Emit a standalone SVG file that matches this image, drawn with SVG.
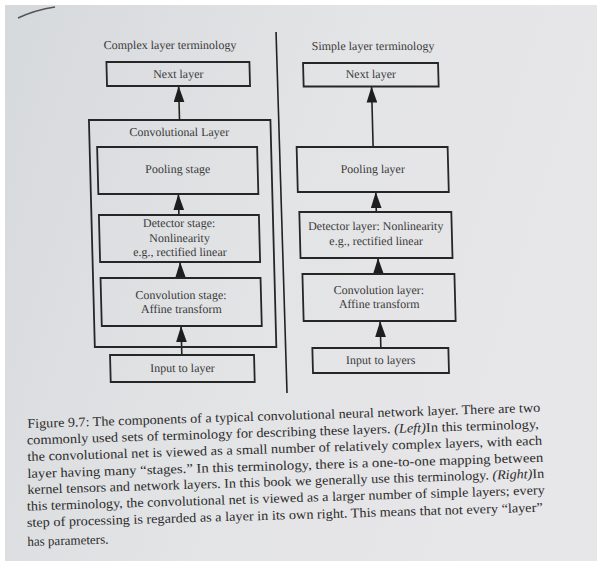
<svg xmlns="http://www.w3.org/2000/svg" width="597" height="561" viewBox="0 0 597 561">
<defs>
<linearGradient id="bg" x1="0" y1="0" x2="1" y2="0.3">
<stop offset="0" stop-color="#d6d9dc"/>
<stop offset="0.55" stop-color="#e3e4e6"/>
<stop offset="1" stop-color="#e7e6e8"/>
</linearGradient>
<marker id="ah" markerUnits="userSpaceOnUse" markerWidth="16" markerHeight="11" viewBox="0 0 15 10" refX="15" refY="5" orient="auto">
<path d="M0,0 L15,5 L0,10 z" fill="#1e1e1e"/>
</marker>
</defs>
<style>
.box{fill:none;stroke:#262626;stroke-width:1.8}
.lbl{font-family:"Liberation Serif","Times New Roman",serif;font-size:12px;fill:#3a3a3a;text-anchor:middle}
.edge{stroke:#222;stroke-width:1.6;fill:none;marker-end:url(#ah)}
.cap{font-family:"Liberation Serif","Times New Roman",serif;font-size:13.3px;fill:#2c2c2c}
</style>
<rect width="597" height="561" fill="#ffffff"/>
<rect x="5" y="5" width="592" height="556" fill="url(#bg)"/>
<path d="M18,18 Q35,10 55,7" stroke="#555" stroke-width="1.5" fill="none"/>

<g transform="matrix(1,0,0.026,1,-5.2,0)">
<text class="lbl" x="174" y="49">Complex layer terminology</text>
<text class="lbl" x="377" y="50">Simple layer terminology</text>
<line x1="280.4" y1="32" x2="282" y2="393" stroke="#222" stroke-width="1.6"/>

<g id="connectors">
<line class="edge" x1="181.6" y1="120" x2="181.6" y2="86"/>
<line class="edge" x1="178.5" y1="215" x2="178.5" y2="194"/>
<line class="edge" x1="178.5" y1="278" x2="178.5" y2="262"/>
<line class="edge" x1="177.8" y1="355" x2="177.8" y2="326"/>
<line class="edge" x1="374.5" y1="147" x2="374.5" y2="86.5"/>
<line class="edge" x1="376" y1="212" x2="376" y2="192"/>
<line class="edge" x1="376.5" y1="274" x2="376.5" y2="258"/>
<line class="edge" x1="377" y1="348" x2="377" y2="321"/>
</g>

<g id="L-next"><rect class="box" x="110" y="62" width="143" height="24"/><text class="lbl" x="181.5" y="78">Next layer</text></g>
<g id="L-convlayer"><rect class="box" x="91" y="120" width="181.5" height="227"/><text class="lbl" x="181" y="136">Convolutional Layer</text></g>
<g id="L-pool"><rect class="box" x="98.5" y="147" width="160" height="47"/><text class="lbl" x="178.5" y="173">Pooling stage</text></g>
<g id="L-detector"><rect class="box" x="98.5" y="215" width="160" height="47"/><text class="lbl" x="178.5" y="227">Detector stage:</text><text class="lbl" x="178.5" y="242">Nonlinearity</text><text class="lbl" x="178.5" y="256">e.g., rectified linear</text></g>
<g id="L-conv"><rect class="box" x="98.5" y="278" width="160" height="48"/><text class="lbl" x="178.5" y="299">Convolution stage:</text><text class="lbl" x="178.5" y="313">Affine transform</text></g>
<g id="L-input"><rect class="box" x="106" y="355" width="144" height="27"/><text class="lbl" x="178" y="372">Input to layer</text></g>

<g id="R-next"><rect class="box" x="306.6" y="63" width="135" height="23.5"/><text class="lbl" x="374" y="78">Next layer</text></g>
<g id="R-pool"><rect class="box" x="298" y="147" width="151" height="45"/><text class="lbl" x="373.5" y="173">Pooling layer</text></g>
<g id="R-detector"><rect class="box" x="299" y="212" width="152" height="46"/><text class="lbl" x="375" y="230">Detector layer: Nonlinearity</text><text class="lbl" x="375" y="245">e.g., rectified linear</text></g>
<g id="R-conv"><rect class="box" x="300.5" y="274" width="152" height="47"/><text class="lbl" x="376.5" y="294">Convolution layer:</text><text class="lbl" x="376.5" y="308">Affine transform</text></g>
<g id="R-input"><rect class="box" x="308.5" y="348" width="136" height="25"/><text class="lbl" x="376.5" y="364">Input to layers</text></g>
</g>

<g id="caption">
<text class="cap" x="27.5" y="428" transform="rotate(-1.8 27.5 428)" textLength="513" lengthAdjust="spacingAndGlyphs">Figure 9.7: The components of a typical convolutional neural network layer. There are two</text>
<text class="cap" x="27" y="444.5" transform="rotate(-1.8 27 444.5)" textLength="512" lengthAdjust="spacingAndGlyphs">commonly used sets of terminology for describing these layers. <tspan font-style="italic">(Left)</tspan>In this terminology,</text>
<text class="cap" x="27.5" y="461" transform="rotate(-1.8 27.5 461)" textLength="515" lengthAdjust="spacingAndGlyphs">the convolutional net is viewed as a small number of relatively complex layers, with each</text>
<text class="cap" x="27.5" y="478" transform="rotate(-1.8 27.5 478)" textLength="516" lengthAdjust="spacingAndGlyphs">layer having many “stages.” In this terminology, there is a one-to-one mapping between</text>
<text class="cap" x="27.5" y="494" transform="rotate(-1.8 27.5 494)" textLength="517" lengthAdjust="spacingAndGlyphs">kernel tensors and network layers. In this book we generally use this terminology. <tspan font-style="italic">(Right)</tspan>In</text>
<text class="cap" x="27" y="510.5" transform="rotate(-1.8 27 510.5)" textLength="518" lengthAdjust="spacingAndGlyphs">this terminology, the convolutional net is viewed as a larger number of simple layers; every</text>
<text class="cap" x="27" y="527" transform="rotate(-1.7 27 527)" textLength="516" lengthAdjust="spacingAndGlyphs">step of processing is regarded as a layer in its own right. This means that not every “layer”</text>
<text class="cap" x="27.5" y="546" transform="rotate(-1.7 27.5 546)" textLength="81" lengthAdjust="spacingAndGlyphs">has parameters.</text>
</g>
</svg>
